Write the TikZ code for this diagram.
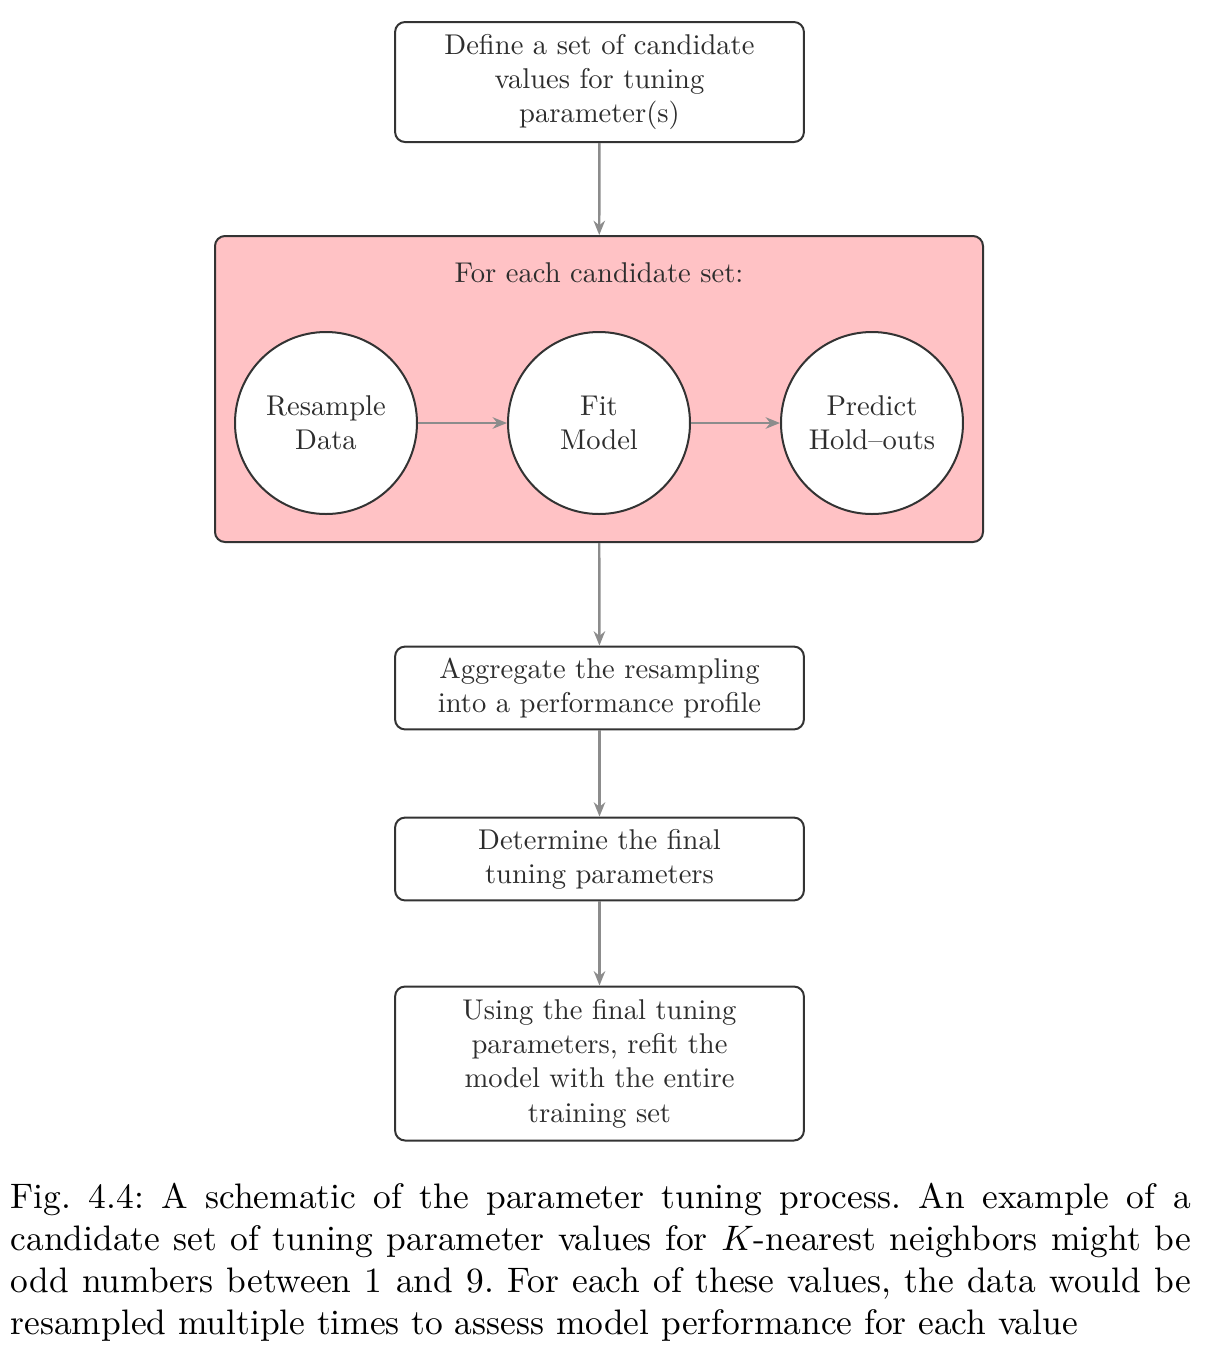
\documentclass[tikz,border=0pt]{standalone}
\usetikzlibrary{arrows.meta,positioning}
\definecolor{pinkfill}{RGB}{255,194,197}
\definecolor{edgegray}{RGB}{51,51,51}
\definecolor{arrowgray}{RGB}{140,140,140}
\definecolor{txtgray}{RGB}{45,45,45}
\begin{document}
\begin{tikzpicture}[x=0.35pt,y=-0.35pt,
  procbox/.style={draw=edgegray,line width=0.7pt,rounded corners=3.5pt,fill=white,
    minimum width=143.1pt,align=center,inner sep=0pt,text=txtgray,font=\fontsize{10}{12}\selectfont},
  loopbox/.style={draw=edgegray,line width=0.7pt,rounded corners=3.5pt,fill=pinkfill,
    minimum width=268.8pt,minimum height=107.1pt,inner sep=0pt},
  stepcircle/.style={draw=edgegray,line width=0.7pt,circle,fill=white,minimum size=63.7pt,
    align=center,inner sep=0pt,text=txtgray,font=\fontsize{10}{12}\selectfont},
  flow/.style={draw=arrowgray,line width=0.85pt,-{Stealth[length=5pt,width=4pt,inset=1.6pt]}}
]
\useasboundingbox (0,0) rectangle (1212,1362);

\node[procbox,minimum height=42pt] (define) at (599.5,82)
  {Define a set of candidate\\values for tuning\\parameter(s)};
\node[loopbox] (loop) at (599,389) {};
\node[text=txtgray,font=\fontsize{10}{12}\selectfont,inner sep=0pt] (looptitle) at (599,273) {For each candidate set:};
\node[stepcircle] (resample) at (326,423) {Resample\\Data};
\node[stepcircle] (fit) at (599,423) {Fit\\Model};
\node[stepcircle] (predict) at (872,423) {Predict\\Hold--outs};
\node[procbox,minimum height=29pt] (aggregate) at (599.5,688)
  {Aggregate the resampling\\into a performance profile};
\node[procbox,minimum height=29pt] (determine) at (599.5,859)
  {Determine the final\\tuning parameters};
\node[procbox,minimum height=53.9pt] (refit) at (599.5,1063.5)
  {Using the final tuning\\parameters, refit the\\model with the entire\\training set};

\draw[flow] (define) -- (loop);
\draw[flow] (resample) -- (fit);
\draw[flow] (fit) -- (predict);
\draw[flow] (loop) -- (aggregate);
\draw[flow] (aggregate) -- (determine);
\draw[flow] (determine) -- (refit);

\node[anchor=north west,inner sep=0pt,text width=333.1pt,align=justify,scale=1.24,transform shape,
  font=\fontsize{10}{11.85}\selectfont\frenchspacing] (caption) at (10,1182)
  {Fig.~4.4: A schematic of the parameter tuning process. An example of a candidate set of tuning parameter values for $K$-nearest neighbors might be odd numbers between 1 and 9. For each of these values, the data would be resampled multiple times to assess model performance for each value};
\end{tikzpicture}
\end{document}
